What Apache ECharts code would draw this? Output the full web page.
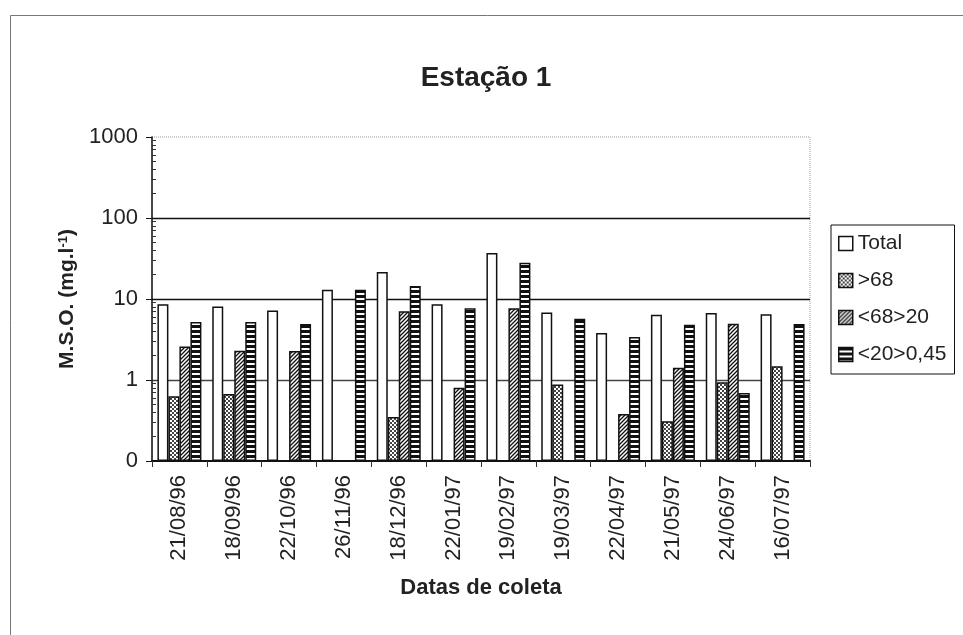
<!DOCTYPE html>
<html>
<head>
<meta charset="utf-8">
<script src="https://cdn.jsdelivr.net/npm/echarts@6/dist/echarts.min.js"></script>
<style>
  html, body { margin: 0; padding: 0; background: #fff; }
  #chart { width: 963px; height: 635px; }
</style>
</head>
<body>
<div id="chart"></div>
<script>
// Sampling dates (Estação 1)
const dates = ['21/08/96', '18/09/96', '22/10/96', '26/11/96', '18/12/96', '22/01/97',
               '19/02/97', '19/03/97', '22/04/97', '21/05/97', '24/06/97', '16/07/97'];

// M.S.O. (mg/l) per fraction; null = not measured
const total    = [8.6, 8.1, 7.2, 13, 21.5, 8.6, 37, 6.8, 3.8, 6.4, 6.7, 6.5];
const gt68     = [0.63, 0.67, null, null, 0.35, null, null, 0.88, null, 0.31, 0.94, 1.48];
const f68to20  = [2.6, 2.3, 2.28, null, 7.05, 0.80, 7.7, null, 0.38, 1.42, 4.95, null];
const f20to045 = [5.2, 5.2, 4.9, 13, 14.5, 7.7, 28, 5.7, 3.4, 4.8, 0.69, 4.9];

const seriesNames = ['Total', '>68', '<68>20', '<20>0,45'];

// Y axis ticks (log scale); the bottom tick 0.1 is printed as "0"
const yTicks = [0.1, 1, 10, 100, 1000];
const yMinorTicks = [0.2, 0.3, 0.4, 0.5, 0.6, 0.7, 0.8, 0.9,
                     2, 3, 4, 5, 6, 7, 8, 9,
                     20, 30, 40, 50, 60, 70, 80, 90,
                     200, 300, 400, 500, 600, 700, 800, 900];

// Hatch fills
function makePattern(w, h, draw) {
  const c = document.createElement('canvas');
  c.width = w; c.height = h;
  const ctx = c.getContext('2d');
  ctx.fillStyle = '#fff';
  ctx.fillRect(0, 0, w, h);
  draw(ctx);
  return { image: c, repeat: 'repeat' };
}
const dotFill = makePattern(4, 4, ctx => {
  ctx.fillStyle = '#444';
  ctx.fillRect(0, 0, 2, 2);
  ctx.fillRect(2, 2, 2, 2);
});
const diagFill = makePattern(4, 4, ctx => {
  ctx.strokeStyle = '#111';
  ctx.lineWidth = 1.3;
  ctx.beginPath();
  ctx.moveTo(-1, 5); ctx.lineTo(5, -1);
  ctx.moveTo(-1, 1); ctx.lineTo(1, -1);
  ctx.moveTo(3, 5); ctx.lineTo(5, 3);
  ctx.stroke();
});
const horizFill = makePattern(2, 5, ctx => {
  ctx.fillStyle = '#111';
  ctx.fillRect(0, 0, 2, 3);
});
const fills = ['#ffffff', dotFill, diagFill, horizFill];
const values = [total, gt68, f68to20, f20to045];

const chart = echarts.init(document.getElementById('chart'), null, { renderer: 'canvas' });

const FONT = 'Arial, "Liberation Sans", sans-serif';

const option = {
  animation: false,
  backgroundColor: '#fff',
  title: {
    text: 'Estação 1',
    left: 481,
    textAlign: 'center',
    top: 59,
    textStyle: { fontFamily: FONT, fontSize: 28, fontWeight: 'bold', color: '#222' }
  },
  legend: {
    orient: 'vertical',
    left: 831,
    top: 225,
    padding: [8, 8, 9, 7],
    itemGap: 16,
    itemWidth: 14,
    itemHeight: 14,
    icon: 'rect',
    borderColor: '#111',
    borderWidth: 1,
    data: seriesNames,
    textStyle: { fontFamily: FONT, fontSize: 21, color: '#222' },
    itemStyle: { borderColor: '#111', borderWidth: 1.5 }
  },
  grid: {
    left: 152, right: 153, top: 137, bottom: 174,
    show: true,
    borderColor: '#999',
    borderWidth: 1,
    borderType: 'dotted'
  },
  xAxis: {
    type: 'category',
    data: dates,
    name: 'Datas de coleta',
    nameLocation: 'middle',
    nameGap: 116,
    nameTextStyle: { fontFamily: FONT, fontSize: 22, fontWeight: 'bold', color: '#222' },
    axisLine: { lineStyle: { color: '#111', width: 2 } },
    axisTick: { show: true, length: 6, lineStyle: { color: '#333' } },
    axisLabel: {
      rotate: 90,
      margin: 14,
      fontFamily: FONT,
      fontSize: 22,
      color: '#222'
    },
    splitLine: { show: false }
  },
  yAxis: [
    {
      type: 'log',
      logBase: 10,
      min: 0.1,
      max: 1000,
      interval: 1,
      startValue: 0.1,
      name: 'M.S.O. (mg.l{sup|-1})',
      nameLocation: 'middle',
      nameGap: 61,
      nameTextStyle: {
        fontFamily: FONT, fontSize: 21, fontWeight: 'bold', color: '#222',
        rich: {
          sup: { fontFamily: FONT, fontSize: 13, fontWeight: 'bold', color: '#222', verticalAlign: 'top', padding: [0, 0, 9, 0] }
        }
      },
      axisLine: { show: true, lineStyle: { color: '#111', width: 1.5 } },
      axisTick: { show: true, length: 6, lineStyle: { color: '#111' } },
      axisLabel: {
        margin: 14,
        fontFamily: FONT,
        fontSize: 22,
        color: '#222',
        formatter: v => (v < 0.5 ? '0' : String(Math.round(v)))
      },
      splitLine: {
        show: true,
        lineStyle: {
          color: ['rgba(0,0,0,0)', '#444', '#111', '#111', 'rgba(0,0,0,0)'],
          width: 1.4
        }
      }
    },
    {
      type: 'log',
      logBase: 10,
      min: 0.1,
      max: 1000,
      position: 'left',
      axisLine: { show: false },
      axisLabel: { show: false },
      splitLine: { show: false },
      axisTick: {
        show: true,
        inside: true,
        length: 4,
        customValues: yMinorTicks,
        lineStyle: { color: '#333' }
      }
    }
  ],
  series: seriesNames.map((name, i) => ({
    name,
    type: 'bar',
    yAxisIndex: 0,
    data: values[i],
    barWidth: 11,
    barGap: '0%',
    itemStyle: {
      color: fills[i],
      borderColor: '#111',
      borderWidth: 1.5
    }
  })),
  graphic: [
    {
      type: 'rect',
      silent: true,
      shape: { x: 10.5, y: 15.5, width: 2000, height: 2000 },
      style: { fill: 'none', stroke: '#777', lineWidth: 1 }
    }
  ]
};

chart.setOption(option);
</script>
</body>
</html>
